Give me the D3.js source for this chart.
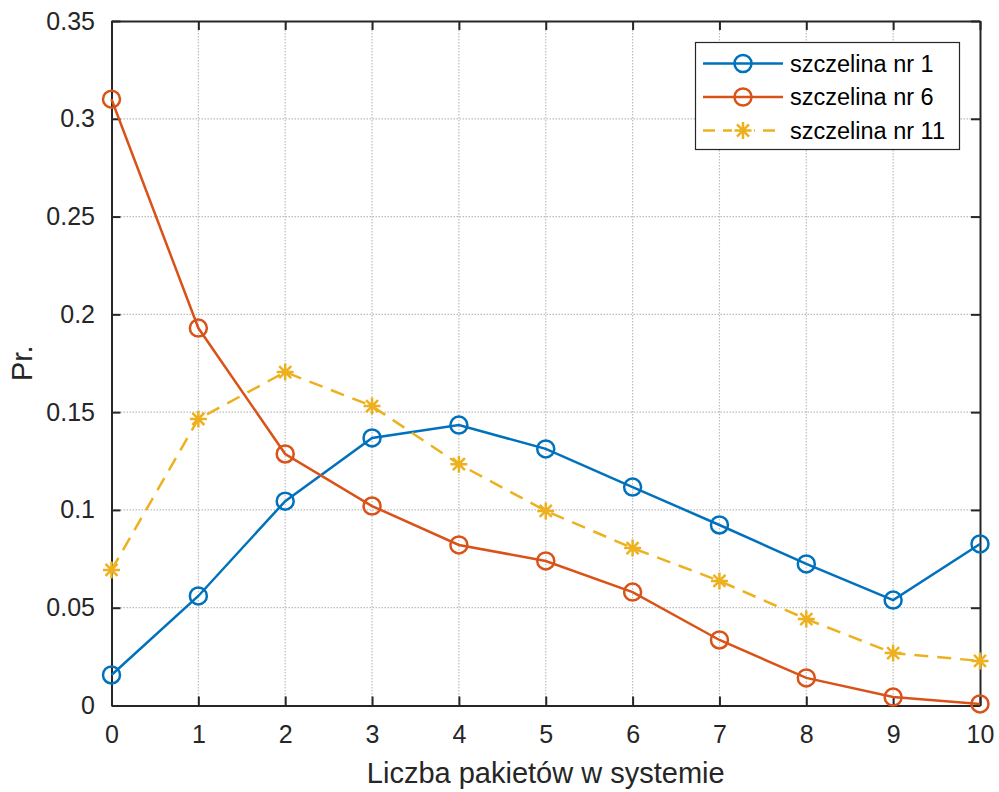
<!DOCTYPE html>
<html>
<head>
<meta charset="utf-8">
<script src="https://cdn.jsdelivr.net/npm/d3@7"></script>
<style>
  html, body { margin: 0; padding: 0; background: #fff; }
  svg { display: block; font-family: "Liberation Sans", Arial, sans-serif; }
</style>
</head>
<body>
<svg id="chart" width="999" height="792"></svg>
<script>
// Liczba pakietów w systemie (0..10)
const packets = [0, 1, 2, 3, 4, 5, 6, 7, 8, 9, 10];

// Prawdopodobieństwa dla poszczególnych szczelin
const slot1  = [0.0156, 0.0560, 0.1045, 0.1368, 0.1434, 0.1312, 0.1117, 0.0923, 0.0724, 0.0539, 0.0826];
const slot6  = [0.3100, 0.1930, 0.1286, 0.1020, 0.0821, 0.0739, 0.0580, 0.0335, 0.0141, 0.0043, 0.0008];
const slot11 = [0.0693, 0.1465, 0.1705, 0.1531, 0.1234, 0.0995, 0.0805, 0.0637, 0.0442, 0.0268, 0.0228];

const seriesNames = ["szczelina nr 1", "szczelina nr 6", "szczelina nr 11"];
const yTicks = [0, 0.05, 0.1, 0.15, 0.2, 0.25, 0.3, 0.35];
const xTicks = [0, 1, 2, 3, 4, 5, 6, 7, 8, 9, 10];

const series = [
  { name: seriesNames[0], values: slot1,  color: "#0072BD", dash: null,    marker: "circle" },
  { name: seriesNames[1], values: slot6,  color: "#D95319", dash: null,    marker: "circle" },
  { name: seriesNames[2], values: slot11, color: "#EDB120", dash: "14,9",  marker: "star" }
];

const svg = d3.select("#chart");
const mLeft = 111.5, mRight = 980, mTop = 21, mBottom = 705.5;

const x = d3.scaleLinear().domain([0, 10]).range([mLeft, mRight]);
const y = d3.scaleLinear().domain([0, 0.35]).range([mBottom, mTop]);

const axisColor = "#262626";
const fontSize = 25;
const labelSize = 29;

// Siatka
const grid = svg.append("g");
grid.selectAll("line.gx").data(xTicks.slice(1, -1)).enter().append("line")
  .attr("x1", d => x(d)).attr("x2", d => x(d))
  .attr("y1", mTop).attr("y2", mBottom)
  .attr("stroke", "#bdbdbd").attr("stroke-width", 1.2).attr("stroke-dasharray", "1.5,1.5");
grid.selectAll("line.gy").data(yTicks.slice(1, -1)).enter().append("line")
  .attr("y1", d => y(d)).attr("y2", d => y(d))
  .attr("x1", mLeft).attr("x2", mRight)
  .attr("stroke", "#bdbdbd").attr("stroke-width", 1.2).attr("stroke-dasharray", "1.5,1.5");

// Osie (znaczniki do wewnątrz)
const tickLen = 9;
const xAxis = svg.append("g").attr("transform", `translate(0,${mBottom})`)
  .call(d3.axisBottom(x).tickValues(xTicks).tickFormat(d3.format("d"))
        .tickSizeInner(-tickLen).tickSizeOuter(0).tickPadding(19.5));
const yAxis = svg.append("g").attr("transform", `translate(${mLeft},0)`)
  .call(d3.axisLeft(y).tickValues(yTicks).tickFormat(d => d === 0 ? "0" : String(+d.toFixed(2)))
        .tickSizeInner(-tickLen).tickSizeOuter(0).tickPadding(16.5));
const xAxisTop = svg.append("g").attr("transform", `translate(0,${mTop})`)
  .call(d3.axisTop(x).tickValues(xTicks).tickFormat("").tickSizeInner(-tickLen).tickSizeOuter(0));
const yAxisRight = svg.append("g").attr("transform", `translate(${mRight},0)`)
  .call(d3.axisRight(y).tickValues(yTicks).tickFormat("").tickSizeInner(-tickLen).tickSizeOuter(0));

[xAxis, yAxis, xAxisTop, yAxisRight].forEach(g => {
  g.select(".domain").attr("stroke", axisColor).attr("stroke-width", 2);
  g.selectAll(".tick line").attr("stroke", axisColor).attr("stroke-width", 2);
  g.selectAll(".tick text").attr("fill", axisColor)
    .style("font-size", fontSize + "px")
    .style("font-family", "'Liberation Sans', Arial, sans-serif");
});
xAxis.selectAll(".tick text").attr("dy", "0.71em");

// Podpisy osi
svg.append("text")
  .attr("x", (mLeft + mRight) / 2).attr("y", 783)
  .attr("text-anchor", "middle").attr("fill", axisColor)
  .style("font-size", labelSize + "px")
  .text("Liczba pakietów w systemie");
svg.append("text")
  .attr("transform", `translate(32,${(mTop + mBottom) / 2}) rotate(-90)`)
  .attr("text-anchor", "middle").attr("fill", axisColor)
  .style("font-size", labelSize + "px")
  .text("Pr.");

// Znaczniki
const starPath = r => {
  const a = r * Math.SQRT1_2;
  return `M${-r},0L${r},0M0,${-r}L0,${r}M${-a},${-a}L${a},${a}M${-a},${a}L${a},${-a}`;
};
function drawMarker(g, type, color) {
  if (type === "circle") {
    g.append("circle").attr("r", 8.5).attr("fill", "none")
      .attr("stroke", color).attr("stroke-width", 2.5);
  } else {
    g.append("path").attr("d", starPath(8.5)).attr("fill", "none")
      .attr("stroke", color).attr("stroke-width", 2.5);
  }
}

const line = d3.line().x((d, i) => x(packets[i])).y(d => y(d));
const plot = svg.append("g");
series.forEach(s => {
  plot.append("path").datum(s.values)
    .attr("d", line).attr("fill", "none")
    .attr("stroke", s.color).attr("stroke-width", 2.5)
    .attr("stroke-dasharray", s.dash);
  s.values.forEach((v, i) => {
    const g = plot.append("g").attr("transform", `translate(${x(packets[i])},${y(v)})`);
    drawMarker(g, s.marker, s.color);
  });
});

// Legenda
const leg = svg.append("g");
leg.append("rect").attr("x", 695.5).attr("y", 42.5).attr("width", 264).attr("height", 107)
  .attr("fill", "#fff").attr("stroke", axisColor).attr("stroke-width", 1.2);
series.forEach((s, i) => {
  const yy = 63.5 + i * 33.5;
  leg.append("line").attr("x1", 703).attr("x2", 783).attr("y1", yy).attr("y2", yy)
    .attr("stroke", s.color).attr("stroke-width", 2.5)
    .attr("stroke-dasharray", s.dash ? "12,8" : null);
  const g = leg.append("g").attr("transform", `translate(743,${yy})`);
  if (s.dash) g.append("rect").attr("x", -11).attr("y", -11).attr("width", 22).attr("height", 22).attr("fill", "#fff");
  drawMarker(g, s.marker, s.color);
  leg.append("text").attr("x", 790).attr("y", yy).attr("dy", "0.35em")
    .attr("fill", "#000").style("font-size", "23.5px").text(s.name);
});
</script>
</body>
</html>
